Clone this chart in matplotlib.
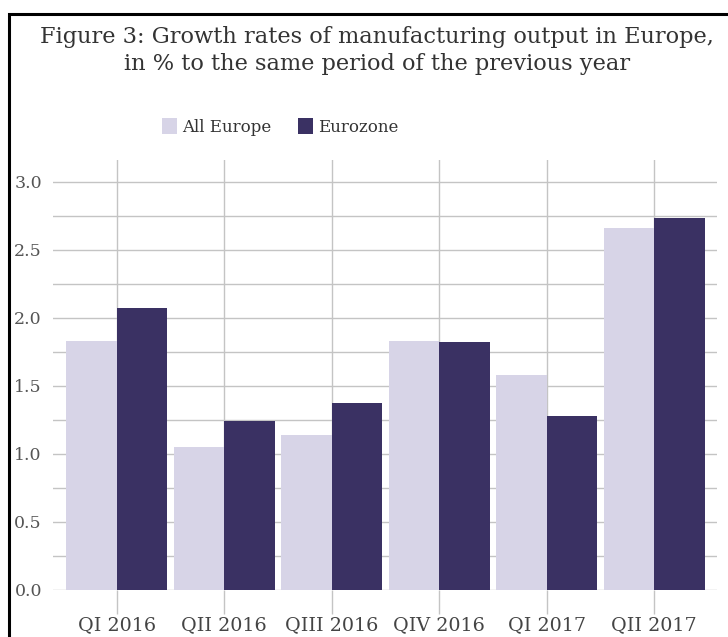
import numpy as np
import matplotlib
matplotlib.use("Agg")
import matplotlib.pyplot as plt
from matplotlib.patches import Rectangle

# datos
trimestres = ["QI 2016", "QII 2016", "QIII 2016", "QIV 2016", "QI 2017", "QII 2017"]
all_europe = [1.83, 1.05, 1.14, 1.83, 1.58, 2.66]
eurozone = [2.07, 1.24, 1.375, 1.82, 1.28, 2.735]
y_ticks = [0.0, 0.5, 1.0, 1.5, 2.0, 2.5, 3.0]

col_claro = "#d7d4e7"
col_oscuro = "#3a3163"
col_grid = "#c4c4c4"
col_texto = "#555555"

plt.rcParams["font.family"] = ["DejaVu Serif"]

W, H = 728, 637
fig = plt.figure(figsize=(W / 100, H / 100), dpi=100)
fig.patch.set_facecolor("white")

# marco negro (recortado a derecha y abajo)
fig.patches.append(Rectangle((9 / W, -0.2), 1.5, (1 - 14 / H) + 0.2,
                             transform=fig.transFigure, fill=False,
                             edgecolor="black", linewidth=2.2))

ax = fig.add_axes([53 / W, 1 - 590 / H, (717 - 53) / W, (590 - 160) / H])
x = np.arange(len(trimestres))
ancho = 0.47
ax.bar(x - ancho / 2, all_europe, ancho, color=col_claro, label="All Europe", zorder=2)
ax.bar(x + ancho / 2, eurozone, ancho, color=col_oscuro, label="Eurozone", zorder=2)

ax.set_xlim(-0.595, len(trimestres) - 1 + 0.585)
ax.set_ylim(0, 3.16)
ax.set_yticks(y_ticks)
ax.set_yticklabels([f"{v:.1f}" for v in y_ticks])
ax.set_yticks(np.arange(0.25, 3.0, 0.5), minor=True)
ax.set_xticks(x)
ax.set_xticklabels(trimestres)

ax.grid(True, which="both", axis="y", color=col_grid, linewidth=1, zorder=0)
ax.grid(True, axis="x", color=col_grid, linewidth=1, zorder=0)
for s in ax.spines.values():
    s.set_visible(False)
ax.tick_params(axis="y", which="both", length=0, labelsize=12.5, labelcolor=col_texto, pad=8)
ax.tick_params(axis="x", length=17, color=col_grid, width=1, labelsize=13.8,
               labelcolor="#444444", pad=2)

fig.text(0.518, 1 - 37 / H, "Figure 3: Growth rates of manufacturing output in Europe,",
         ha="center", va="center", fontsize=16.2, color="#333333")
fig.text(0.518, 1 - 64 / H, "in % to the same period of the previous year",
         ha="center", va="center", fontsize=16.2, color="#333333")

h, l = ax.get_legend_handles_labels()
fig.legend(h, l, loc="center", bbox_to_anchor=(280 / W, 1 - 127 / H), ncol=2,
           frameon=False, fontsize=12, handlelength=0.9, handleheight=1.1,
           handletextpad=0.3, columnspacing=1.6, labelcolor="#333333")

fig.savefig("out.png", dpi=100)
